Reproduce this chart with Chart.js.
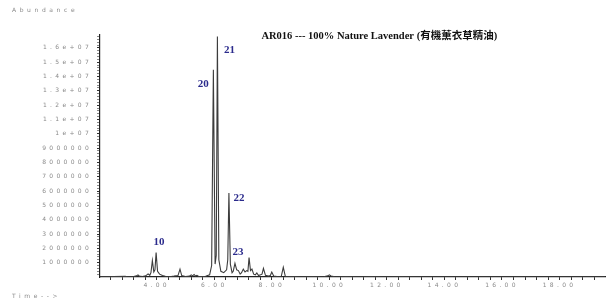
<!DOCTYPE html>
<html>
<head>
<meta charset="utf-8">
<script src="https://cdn.jsdelivr.net/npm/chart.js@4/dist/chart.umd.min.js"></script>
<style>
  html, body { margin: 0; padding: 0; background: #fff; }
  canvas { display: block; }
</style>
</head>
<body>
<canvas id="tic" width="607" height="303"></canvas>
<script>
(function () {
  'use strict';

  // retention time (min) and abundance of the TIC trace
  const times = [
    2.03, 2.5, 2.9, 3.0, 3.2, 3.3, 3.35, 3.4, 3.5, 3.62, 3.7, 3.76, 3.8, 3.85,
    3.9, 3.94, 3.98, 4.03, 4.1, 4.2, 4.3, 4.5, 4.6, 4.74, 4.81, 4.87, 5.0,
    5.14, 5.2, 5.25, 5.3, 5.35, 5.4, 5.46, 5.6, 5.7, 5.84, 5.91, 5.97, 6.03,
    6.07, 6.11, 6.16, 6.23, 6.33, 6.43, 6.47, 6.51, 6.56, 6.62, 6.66, 6.72,
    6.78, 6.84, 6.9, 6.95, 7.01, 7.07, 7.13, 7.17, 7.21, 7.26, 7.31, 7.37,
    7.43, 7.48, 7.54, 7.61, 7.66, 7.71, 7.78, 7.88, 7.95, 8.0, 8.07, 8.18,
    8.33, 8.4, 8.47, 8.58, 8.8, 9.0, 9.4, 9.8, 9.95, 10.0, 10.06, 10.2, 10.6,
    11.0, 11.5, 12.0, 12.5, 13.0, 14.0, 15.0, 16.0, 17.0, 18.0, 19.0, 19.58,
  ];
  const abundance = [
    20000, 30000, 50000, 20000, 30000, 80000, 150000, 60000, 40000, 80000,
    220000, 120000, 300000, 1150000, 350000, 500000, 1700000, 400000, 200000,
    100000, 50000, 40000, 60000, 100000, 550000, 100000, 40000, 60000, 150000,
    80000, 180000, 70000, 120000, 40000, 30000, 50000, 150000, 800000,
    14470000, 900000, 1500000, 16800000, 1200000, 400000, 300000, 500000,
    1200000, 5860000, 900000, 300000, 400000, 950000, 500000, 450000, 200000,
    300000, 550000, 350000, 450000, 400000, 1350000, 450000, 550000, 200000,
    150000, 280000, 100000, 150000, 200000, 600000, 120000, 60000, 100000,
    350000, 60000, 40000, 50000, 680000, 50000, 30000, 40000, 20000, 30000,
    20000, 80000, 150000, 70000, 20000, 30000, 20000, 30000, 20000, 30000,
    20000, 20000, 20000, 20000, 20000, 20000, 20000, 20000,
  ];

  // labelled ticks
  const xTickValues = [4, 6, 8, 10, 12, 14, 16, 18];
  const yTickValues = [
    1000000, 2000000, 3000000, 4000000, 5000000, 6000000, 7000000, 8000000,
    9000000, 10000000, 11000000, 12000000, 13000000, 14000000, 15000000,
    16000000,
  ];

  // numbered peaks
  const peakNames = ['10', '20', '21', '22', '23'];
  const peakTimes = [3.98, 5.97, 6.11, 6.51, 6.72];
  const peakHeights = [1700000, 14470000, 16800000, 5860000, 950000];
  const peakOffsets = [[3, -11], [-10, 14], [12, 14], [10, 5], [3, -11]];

  const TITLE = 'AR016 --- 100% Nature Lavender (有機薰衣草精油)';
  const Y_LABEL = 'Abundance';
  const X_LABEL = 'Time-->';

  const points = times.map((t, i) => ({ x: t, y: abundance[i] }));

  const TICK_GREY = '#8a8a8a';
  const PEAK_BLUE = '#2b2b8c';

  const isXMajor = (v) => xTickValues.some((t) => Math.abs(t - v) < 1e-6);
  const isYMajor = (v) => yTickValues.some((t) => Math.abs(t - v) < 1);

  const decor = {
    id: 'decor',
    beforeDraw(chart) {
      // the instrument printout uses widely spaced tick lettering
      chart.ctx.letterSpacing = '3.3px';
    },
    afterDraw(chart) {
      const ctx = chart.ctx;
      const xs = chart.scales.x;
      const ys = chart.scales.y;
      const area = chart.chartArea;
      ctx.save();

      ctx.fillStyle = TICK_GREY;
      ctx.font = '6px "DejaVu Sans"';
      ctx.textAlign = 'left';
      ctx.textBaseline = 'middle';
      ctx.letterSpacing = '3.6px';
      ctx.fillText(Y_LABEL, 12, 10);
      ctx.fillText(X_LABEL, 12, 296);

      ctx.letterSpacing = '0px';
      ctx.fillStyle = '#111';
      ctx.font = 'bold 10.5px "Liberation Serif", "Noto Sans CJK TC", serif';
      ctx.textAlign = 'center';
      ctx.fillText(TITLE, area.left + (area.right - area.left) * 0.553, 36);

      ctx.fillStyle = PEAK_BLUE;
      ctx.font = 'bold 11px "Liberation Serif", serif';
      peakNames.forEach((name, i) => {
        const px = xs.getPixelForValue(peakTimes[i]) + peakOffsets[i][0];
        const py = ys.getPixelForValue(peakHeights[i]) + peakOffsets[i][1];
        ctx.fillText(name, px, py);
      });
      ctx.restore();
    },
  };

  new Chart(document.getElementById('tic'), {
    type: 'line',
    data: {
      datasets: [{
        data: points,
        borderColor: '#3c3c3c',
        borderWidth: 1.1,
        pointRadius: 0,
        tension: 0,
        fill: false,
      }],
    },
    options: {
      responsive: false,
      animation: false,
      devicePixelRatio: 1,
      layout: { padding: { left: 0, top: 35, right: 2, bottom: 0 } },
      plugins: {
        legend: { display: false },
        tooltip: { enabled: false },
        title: { display: false },
      },
      scales: {
        x: {
          type: 'linear',
          min: 2.03,
          max: 19.58,
          afterFit: (s) => { s.height = 26; },
          afterBuildTicks: (s) => {
            // minor tick every 0.4 min, labels only on the 2-min marks
            const ticks = [];
            for (let k = 6; k <= 48; k++) ticks.push({ value: k * 4 / 10 });
            s.ticks = ticks;
          },
          border: { color: '#222', width: 1.2 },
          grid: {
            drawOnChartArea: false,
            tickLength: 3,
            tickColor: '#333',
          },
          ticks: {
            autoSkip: false,
            maxRotation: 0,
            padding: 2,
            color: TICK_GREY,
            font: { family: 'DejaVu Sans', size: 6 },
            callback: (v) => (isXMajor(v) ? v.toFixed(2) : ''),
          },
        },
        y: {
          min: 0,
          max: 16900000,
          afterFit: (s) => { s.width = 100; },
          afterBuildTicks: (s) => {
            // dense minor ticks every 2e5
            const ticks = [];
            for (let k = 1; k <= 84; k++) ticks.push({ value: k * 200000 });
            s.ticks = ticks;
          },
          border: { color: '#222', width: 1.2 },
          grid: {
            drawOnChartArea: false,
            tickLength: 3,
            tickColor: (c) => (c.tick && isYMajor(c.tick.value) ? '#333' : '#888'),
          },
          ticks: {
            autoSkip: false,
            padding: 5,
            color: TICK_GREY,
            font: { family: 'DejaVu Sans', size: 6 },
            callback: (v) => {
              if (!isYMajor(v)) return '';
              if (v >= 1e7) return (Math.round(v / 1e6) / 10) + 'e+07';
              return String(Math.round(v));
            },
          },
        },
      },
    },
    plugins: [decor],
  });
}());
</script>
</body>
</html>
